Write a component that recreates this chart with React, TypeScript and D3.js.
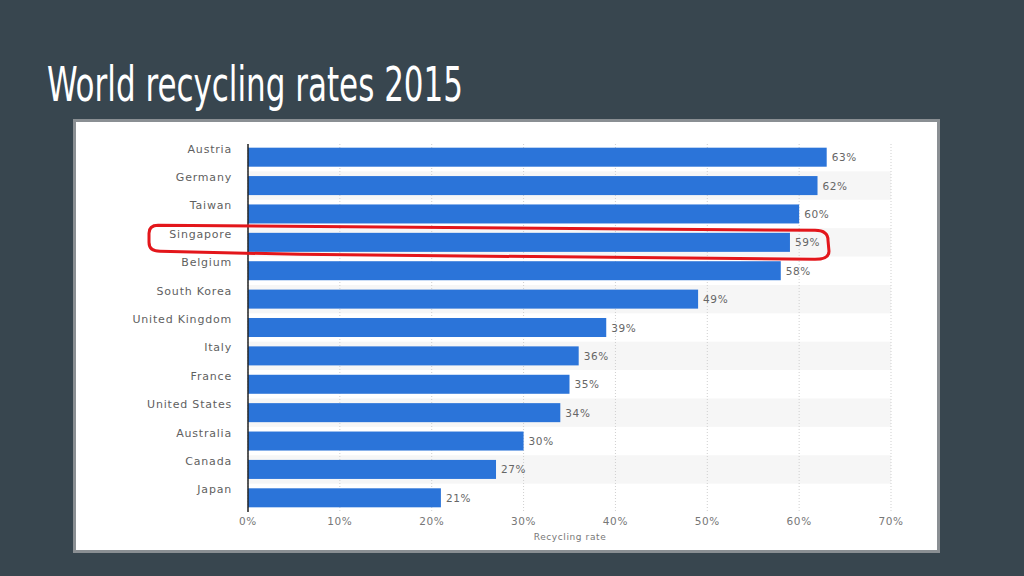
import React from "react";
import * as d3 from "d3";

const countries = [
  "Austria", "Germany", "Taiwan", "Singapore", "Belgium", "South Korea",
  "United Kingdom", "Italy", "France", "United States", "Australia", "Canada", "Japan",
];
const rates = [63, 62, 60, 59, 58, 49, 39, 36, 35, 34, 30, 27, 21];
const ticks = [0, 10, 20, 30, 40, 50, 60, 70];
const title = "World recycling rates 2015";
const axisTitle = "Recycling rate";
const highlighted = "Singapore";

export default function App() {
  const W = 1024, H = 576;
  const x = d3.scaleLinear().domain([0, 70]).range([248, 891]);
  const y = d3.scaleBand<string>().domain(countries).range([143, 512]).paddingInner(0.33).paddingOuter(0.165);
  const step = y.step();
  const font = "'DejaVu Sans', Verdana, sans-serif";
  const hy = (y(highlighted) ?? 0) + y.bandwidth() / 2;
  const hl = `M 158 ${hy - 17} L 815 ${hy - 12} Q 828 ${hy - 12} 828 ${hy - 2} L 829 ${hy + 9} Q 829 ${hy + 17} 815 ${hy + 17} L 300 ${hy + 12} L 160 ${hy + 9} Q 149 ${hy + 9} 149 ${hy} L 149 ${hy - 9} Q 149 ${hy - 17} 158 ${hy - 17} Z`;
  return (
    <svg width={W} height={H} style={{ position: "absolute", left: 0, top: 0, display: "block" }}>
      <rect x={0} y={0} width={W} height={H} fill="#38464f" />
      <text x={47} y={101} fill="#ffffff" fontFamily="'Liberation Sans Narrow', 'DejaVu Sans Condensed', sans-serif" fontSize={48} textLength={416} lengthAdjust="spacingAndGlyphs">{title}</text>
      <rect x={74.5} y={120.5} width={864} height={431} fill="#ffffff" stroke="#8a8f93" strokeWidth={3} />
      {countries.map((c, i) => i % 2 === 1 ? (
        <rect key={"band" + c} x={x(0)} y={(y(c) ?? 0) - (step - y.bandwidth()) / 2} width={x(70) - x(0)} height={step} fill="#f6f6f6" />
      ) : null)}
      {ticks.map((t) => (
        <line key={"g" + t} x1={x(t)} x2={x(t)} y1={144} y2={512} stroke="#cfcfcf" strokeWidth={1} strokeDasharray="1,2" />
      ))}
      {countries.map((c, i) => (
        <g key={c}>
          <rect x={x(0)} y={y(c)} width={x(rates[i]) - x(0)} height={y.bandwidth()} fill="#2b74d9" />
          <text x={232} y={(y(c) ?? 0) + 5} textAnchor="end" fontFamily={font} fontSize={11} fill="#5f5f5f" letterSpacing={0.8}>{c}</text>
          <text x={x(rates[i]) + 5} y={(y(c) ?? 0) + y.bandwidth() / 2 + 4} fontFamily={font} fontSize={10.5} fill="#666" letterSpacing={0.6}>{rates[i]}%</text>
        </g>
      ))}
      <line x1={x(0)} x2={x(0)} y1={144} y2={512} stroke="#222" strokeWidth={1.5} />
      {ticks.map((t) => (
        <text key={"t" + t} x={x(t)} y={525} textAnchor="middle" fontFamily={font} fontSize={10.5} fill="#777" letterSpacing={0.6}>{t}%</text>
      ))}
      <text x={570} y={540} textAnchor="middle" fontFamily={font} fontSize={9} fill="#777" letterSpacing={0.6}>{axisTitle}</text>
      <path d={hl} fill="none" stroke="#e3161b" strokeWidth={3} strokeLinejoin="round" />
    </svg>
  );
}
